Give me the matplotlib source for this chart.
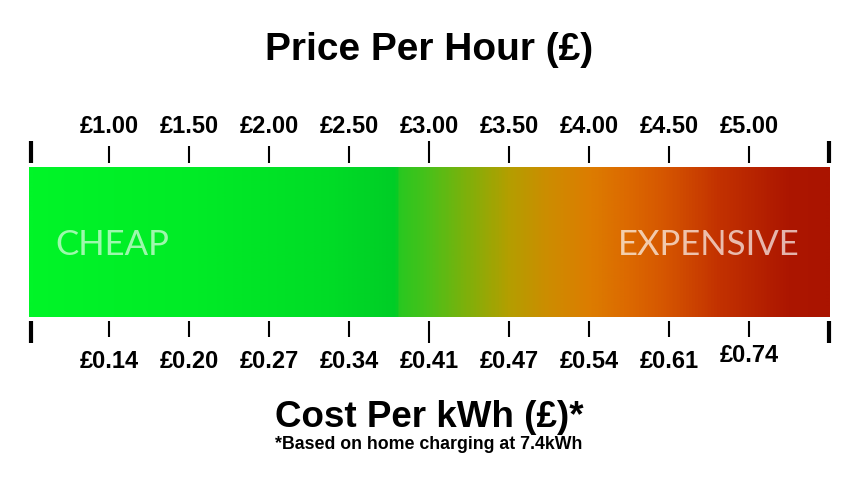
import matplotlib
matplotlib.use('Agg')
import matplotlib.pyplot as plt
from matplotlib.colors import LinearSegmentedColormap
import numpy as np

# price per hour ticks (GBP) and matching cost per kWh labels
price_per_hour = [1.00, 1.50, 2.00, 2.50, 3.00, 3.50, 4.00, 4.50, 5.00]
cost_per_kwh = ['£0.14', '£0.20', '£0.27', '£0.34', '£0.41', '£0.47', '£0.54', '£0.61', '£0.74']
scale_min = 0.5
scale_max = 5.5
mid_price = 3.00

# gradient stops: (fraction along bar, colour)
grad_pos = [0.0, 0.21, 0.375, 0.458, 0.462, 0.5, 0.55, 0.6, 0.65, 0.7, 0.75, 0.797, 0.862, 0.95, 1.0]
grad_col = [(0, 245, 40), (0, 235, 38), (0, 220, 38), (0, 205, 38), (40, 200, 32),
            (75, 192, 25), (130, 175, 10), (180, 158, 0), (205, 140, 0), (220, 125, 0),
            (220, 105, 0), (213, 85, 0), (195, 50, 0), (172, 22, 0), (170, 20, 0)]

FONT = 'Liberation Sans'


def plot_scale():
    fig = plt.figure(figsize=(8.58, 4.83), dpi=100)
    ax = fig.add_axes([0, 0, 1, 1])
    ax.axis('off')
    # 160 px per pound, 0.5 sits at x=29px
    ax.set_xlim(scale_min - 29. / 160., scale_min + 829. / 160.)
    ax.set_ylim(483, 0)

    cmap = LinearSegmentedColormap.from_list(
        'price', list(zip(grad_pos, [tuple(c / 255. for c in col) for col in grad_col])))
    grad = np.linspace(0, 1, 800).reshape(1, -1)
    ax.imshow(grad, cmap=cmap, aspect='auto', extent=[scale_min, scale_max + 1. / 160., 317, 167],
              interpolation='bilinear')

    # ticks
    for p in price_per_hour:
        if p == mid_price:
            ax.vlines(p, 141, 163, color='k', lw=1.5)
            ax.vlines(p, 321, 343, color='k', lw=1.5)
        else:
            ax.vlines(p, 146, 163, color='k', lw=1.5)
            ax.vlines(p, 321, 337, color='k', lw=1.5)
    for p in [scale_min + 2. / 160., scale_max]:
        ax.vlines(p, 141, 163, color='k', lw=3)
        ax.vlines(p, 321, 343, color='k', lw=3)

    # tick labels
    for p in price_per_hour:
        ax.text(p, 133, '£%.2f' % p, ha='center', va='baseline', fontsize=17,
                fontweight='bold', family=FONT)
    for p, lab in zip(price_per_hour, cost_per_kwh):
        y = 362 if lab == '£0.74' else 368
        ax.text(p, y, lab, ha='center', va='baseline', fontsize=17,
                fontweight='bold', family=FONT)

    mid = (scale_min + scale_max) / 2.
    ax.text(mid, 60, 'Price Per Hour (£)', ha='center', va='baseline', fontsize=28,
            fontweight='bold', family=FONT)
    ax.text(mid, 427, 'Cost Per kWh (£)*', ha='center', va='baseline', fontsize=26.5,
            fontweight='bold', family=FONT)
    ax.text(mid, 449, '*Based on home charging at 7.4kWh', ha='center', va='baseline',
            fontsize=12.8, fontweight='bold', family=FONT)

    ax.text(scale_min + 26. / 160., 255, 'CHEAP', ha='left', va='baseline', fontsize=25,
            color='white', alpha=0.62, family='Lato')
    ax.text(scale_max - 29. / 160., 255, 'EXPENSIVE', ha='right', va='baseline', fontsize=25,
            color='white', alpha=0.68, family='Lato')

    plt.savefig('out.png', dpi=100)


plot_scale()
